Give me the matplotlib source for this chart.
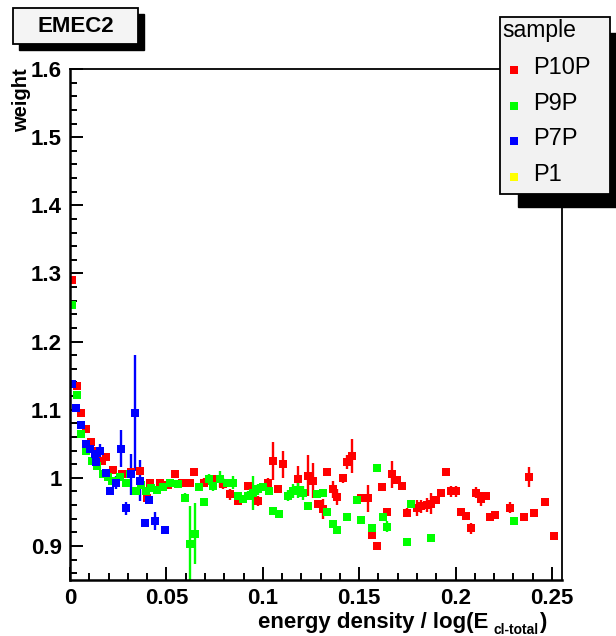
import matplotlib
matplotlib.use("Agg")
import matplotlib.pyplot as plt
from matplotlib.patches import Rectangle
from matplotlib.lines import Line2D

plt.rcParams["font.family"] = ["Liberation Sans", "DejaVu Sans"]

W, H = 616, 636

# P10P (red)
p10p_x = [0.0009, 0.0035, 0.0057, 0.0083, 0.0107, 0.0130, 0.0164, 0.0187, 0.0225, 0.0268,
          0.0315, 0.0363, 0.0398, 0.0415, 0.0467, 0.0510, 0.0545, 0.0580, 0.0622, 0.0645,
          0.0695, 0.0740, 0.0795, 0.0830, 0.0873, 0.0925, 0.0977, 0.1028, 0.1054, 0.1080,
          0.1106, 0.1184, 0.1232, 0.1258, 0.1288, 0.1310, 0.1331, 0.1362, 0.1383, 0.1414,
          0.1438, 0.1464, 0.1512, 0.1547, 0.1564, 0.1590, 0.1617, 0.1642, 0.1671, 0.1694,
          0.1720, 0.1746, 0.1798, 0.1823, 0.1850, 0.1875, 0.1900, 0.1923, 0.1950, 0.1975,
          0.2002, 0.2026, 0.2052, 0.2078, 0.2104, 0.2130, 0.2156, 0.2178, 0.2204, 0.2282,
          0.2356, 0.2382, 0.2408, 0.2464, 0.2510]
p10p_y = [1.290, 1.135, 1.095, 1.071, 1.052, 1.040, 1.025, 1.030, 1.011, 1.005,
          1.008, 1.010, 0.971, 0.993, 0.993, 0.990, 1.005, 0.993, 0.993, 1.008,
          0.993, 0.998, 0.991, 0.976, 0.966, 0.988, 0.966, 0.993, 1.025, 0.984,
          1.020, 0.998, 1.003, 0.996, 0.961, 0.954, 1.008, 0.983, 0.972, 0.999,
          1.023, 1.032, 0.971, 0.970, 0.916, 0.900, 0.986, 0.950, 1.005, 0.997,
          0.988, 0.949, 0.956, 0.958, 0.960, 0.962, 0.968, 0.977, 1.009, 0.980,
          0.980, 0.950, 0.944, 0.926, 0.978, 0.969, 0.974, 0.942, 0.945, 0.956,
          0.943, 1.001, 0.948, 0.964, 0.914]
p10p_err = [0.004, 0.004, 0.004, 0.004, 0.005, 0.004, 0.005, 0.005, 0.005, 0.005,
            0.005, 0.005, 0.005, 0.005, 0.005, 0.004, 0.005, 0.004, 0.005, 0.006,
            0.006, 0.004, 0.008, 0.008, 0.005, 0.005, 0.008, 0.006, 0.028, 0.006,
            0.020, 0.020, 0.030, 0.025, 0.005, 0.015, 0.006, 0.012, 0.012, 0.006,
            0.010, 0.025, 0.005, 0.020, 0.005, 0.005, 0.005, 0.006, 0.020, 0.004,
            0.006, 0.006, 0.012, 0.010, 0.010, 0.015, 0.006, 0.004, 0.004, 0.008,
            0.008, 0.006, 0.006, 0.008, 0.008, 0.010, 0.005, 0.004, 0.004, 0.008,
            0.004, 0.015, 0.004, 0.004, 0.004]

# P9P (green)
p9p_x = [0.0009, 0.0035, 0.0057, 0.0085, 0.0112, 0.0138, 0.0173, 0.0199, 0.0216, 0.0259,
         0.0290, 0.0311, 0.0342, 0.0370, 0.0394, 0.0420, 0.0450, 0.0484, 0.0519, 0.0562,
         0.0597, 0.0622, 0.0648, 0.0670, 0.0697, 0.0723, 0.0743, 0.0778, 0.0813, 0.0847,
         0.0873, 0.0899, 0.0925, 0.0951, 0.0977, 0.1002, 0.1034, 0.1054, 0.1085, 0.1132,
         0.1158, 0.1185, 0.1210, 0.1236, 0.1280, 0.1310, 0.1334, 0.1366, 0.1383, 0.1435,
         0.1490, 0.1512, 0.1564, 0.1590, 0.1622, 0.1642, 0.1746, 0.1768, 0.1872, 0.2304]
p9p_y = [1.254, 1.122, 1.065, 1.040, 1.025, 1.018, 1.005, 1.001, 0.996, 1.001,
         0.992, 1.006, 0.981, 0.990, 0.981, 0.985, 0.982, 0.986, 0.993, 0.991,
         0.971, 0.903, 0.918, 0.986, 0.964, 0.998, 0.988, 0.998, 0.993, 0.993,
         0.974, 0.969, 0.974, 0.978, 0.983, 0.986, 0.981, 0.951, 0.947, 0.974,
         0.981, 0.982, 0.978, 0.959, 0.976, 0.978, 0.950, 0.932, 0.923, 0.942,
         0.967, 0.938, 0.927, 1.015, 0.942, 0.928, 0.906, 0.962, 0.912, 0.937]
p9p_err = [0.004, 0.004, 0.004, 0.004, 0.004, 0.004, 0.004, 0.004, 0.004, 0.004,
           0.004, 0.004, 0.004, 0.005, 0.004, 0.004, 0.004, 0.004, 0.004, 0.005,
           0.006, 0.055, 0.045, 0.006, 0.006, 0.008, 0.008, 0.012, 0.005, 0.010,
           0.005, 0.005, 0.006, 0.025, 0.008, 0.005, 0.004, 0.005, 0.004, 0.008,
           0.010, 0.012, 0.010, 0.004, 0.004, 0.004, 0.004, 0.004, 0.004, 0.004,
           0.004, 0.004, 0.004, 0.004, 0.004, 0.008, 0.004, 0.004, 0.004, 0.004]

# P7P (blue)
p7p_x = [0.0009, 0.0030, 0.0057, 0.0083, 0.0105, 0.0128, 0.0135, 0.0158, 0.0187, 0.0207,
         0.0237, 0.0263, 0.0289, 0.0315, 0.0339, 0.0365, 0.0390, 0.0410, 0.0443, 0.0494]
p7p_y = [1.137, 1.103, 1.078, 1.049, 1.043, 1.035, 1.023, 1.039, 1.007, 0.981,
         0.993, 1.043, 0.955, 1.005, 1.095, 0.996, 0.934, 0.968, 0.937, 0.9235]
p7p_err = [0.004, 0.004, 0.004, 0.005, 0.005, 0.008, 0.006, 0.010, 0.006, 0.006,
           0.010, 0.027, 0.010, 0.030, 0.085, 0.030, 0.004, 0.005, 0.013, 0.004]

samples = ["P10P", "P9P", "P7P", "P1"]
sample_colors = ["#ff0000", "#00ff00", "#0000ff", "#ffff00"]

x_ticks = [0, 0.05, 0.1, 0.15, 0.2, 0.25]
x_ticklabels = ["0", "0.05", "0.1", "0.15", "0.2", "0.25"]
y_ticks = [0.9, 1.0, 1.1, 1.2, 1.3, 1.4, 1.5, 1.6]
y_ticklabels = ["0.9", "1", "1.1", "1.2", "1.3", "1.4", "1.5", "1.6"]


def fx(px):
    return px / W


def fy(py):
    return 1 - py / H


fig = plt.figure(figsize=(W / 100, H / 100), dpi=100)
ax = fig.add_axes([fx(70), fy(580), 492 / W, 511 / H])

series = [(p10p_x, p10p_y, p10p_err), (p9p_x, p9p_y, p9p_err), (p7p_x, p7p_y, p7p_err)]
for (xs, ys, es), color in zip(series, sample_colors):
    ax.errorbar(xs, ys, yerr=es, fmt="s", color=color, ms=5.8, mew=0,
                elinewidth=1.7, capsize=0)

ax.set_xlim(0, 0.2552)
ax.set_ylim(0.85, 1.6)
ax.set_xticks(x_ticks)
ax.set_xticklabels(x_ticklabels)
ax.set_yticks(y_ticks)
ax.set_yticklabels(y_ticklabels)
ax.set_xticks([i * 0.01 for i in range(26)], minor=True)
ax.set_yticks([0.86 + i * 0.02 for i in range(38)], minor=True)
ax.tick_params(which="both", direction="in", top=False, right=False, width=1.4)
ax.tick_params(which="major", length=9.5, labelsize=16, pad=6)
ax.tick_params(which="minor", length=4.8)
for lab in ax.get_xticklabels() + ax.get_yticklabels():
    lab.set_fontweight("bold")
for side in ["left", "bottom"]:
    ax.spines[side].set_linewidth(1.8)
for side in ["top", "right"]:
    ax.spines[side].set_linewidth(1.3)

fig.text(fx(22), fy(68), "weight", rotation=90, ha="center", va="top",
         fontsize=14.5, fontweight="bold")

xl = fig.text(fx(258), fy(628), "energy density / log(E", ha="left", va="baseline",
              fontsize=16, fontweight="bold")
sub = ax.annotate("cl-total", xy=(1, 0), xycoords=xl, xytext=(4, -3),
                  textcoords="offset points", ha="left", va="bottom",
                  fontsize=10, fontweight="bold")
ax.annotate(")", xy=(1, 0), xycoords=sub, xytext=(0, 3), textcoords="offset points",
            ha="left", va="bottom", fontsize=16, fontweight="bold")

# title box
fig.add_artist(Rectangle((fx(19), fy(50)), 125 / W, 36 / H, transform=fig.transFigure,
                         facecolor="black", edgecolor="black"))
fig.add_artist(Rectangle((fx(13), fy(44)), 125 / W, 36 / H, transform=fig.transFigure,
                         facecolor="#f4f4f4", edgecolor="black", linewidth=1.3))
fig.text(fx(75.5), fy(26), "EMEC2", ha="center", va="center", fontsize=16,
         fontweight="bold")

# legend box
fig.add_artist(Rectangle((fx(518), fy(207)), 110 / W, 174 / H, transform=fig.transFigure,
                         facecolor="black", edgecolor="black"))
fig.add_artist(Rectangle((fx(500), fy(194)), 110 / W, 177 / H, transform=fig.transFigure,
                         facecolor="#f2f2f2", edgecolor="black", linewidth=1.3))
fig.text(fx(502), fy(31), "sample", ha="left", va="center", fontsize=16.5)
for i, (name, color) in enumerate(zip(samples, sample_colors)):
    ypos = 68 + i * 35.7
    fig.add_artist(Line2D([fx(514)], [fy(ypos + 2)], marker="s", ms=5.5, mew=0,
                          color=color, linestyle="none", transform=fig.transFigure))
    fig.text(fx(533), fy(ypos), name, ha="left", va="center", fontsize=17)

fig.savefig("out.png", dpi=100)
